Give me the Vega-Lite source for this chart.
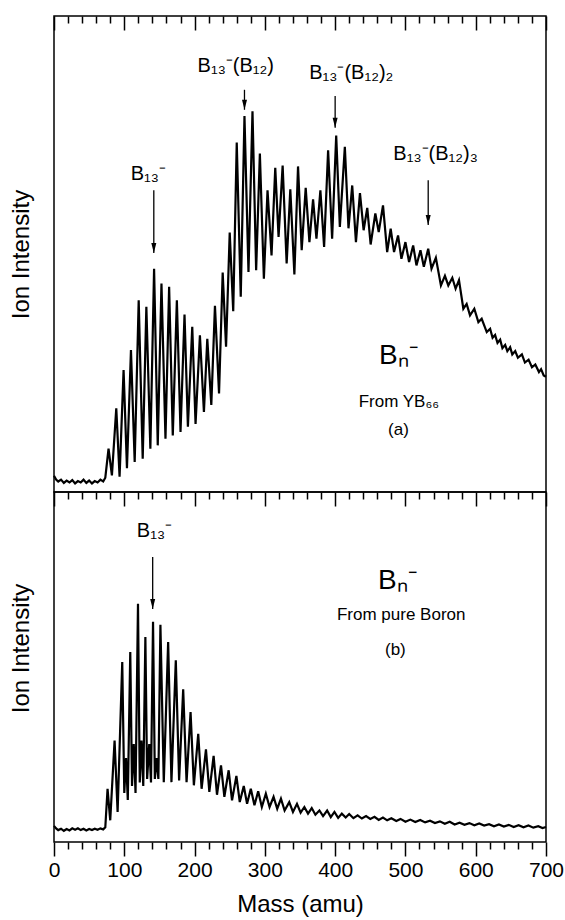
{
  "$schema": "https://vega.github.io/schema/vega-lite/v6.json",
  "background": "white",
  "padding": {"left": 8, "top": 14, "right": 10, "bottom": 0},
  "spacing": 0,
  "bounds": "flush",
  "datasets": {
    "top": [
      {"m": 0, "v": 3.4}, {"m": 3, "v": 2.6}, {"m": 6, "v": 2.2}, {"m": 10, "v": 2.6}, {"m": 14, "v": 1.9},
      {"m": 18, "v": 2.4}, {"m": 22, "v": 2.0}, {"m": 26, "v": 2.5}, {"m": 30, "v": 1.8}, {"m": 34, "v": 2.3},
      {"m": 38, "v": 2.0}, {"m": 42, "v": 2.6}, {"m": 46, "v": 1.9}, {"m": 50, "v": 2.4}, {"m": 54, "v": 1.8},
      {"m": 58, "v": 2.3}, {"m": 62, "v": 2.0}, {"m": 66, "v": 2.6}, {"m": 70, "v": 2.2}, {"m": 73, "v": 3.0},
      {"m": 77.6, "v": 9.1}, {"m": 82.4, "v": 3.5}, {"m": 88.6, "v": 17.6}, {"m": 93.3, "v": 3.2},
      {"m": 99, "v": 25.6}, {"m": 103.8, "v": 5.0}, {"m": 109.5, "v": 29.8}, {"m": 114.8, "v": 6.3},
      {"m": 120.5, "v": 40.3}, {"m": 126.2, "v": 7.0}, {"m": 131.4, "v": 38.9}, {"m": 137.1, "v": 9.1},
      {"m": 142.4, "v": 46.9}, {"m": 147.6, "v": 9.8}, {"m": 152.9, "v": 43.8}, {"m": 158.6, "v": 11.2},
      {"m": 163.8, "v": 43.1}, {"m": 169, "v": 11.9}, {"m": 174.8, "v": 40.3}, {"m": 180, "v": 12.6},
      {"m": 185.7, "v": 37.3}, {"m": 190.5, "v": 13.7}, {"m": 196.7, "v": 34.7}, {"m": 201.4, "v": 14.3},
      {"m": 207.6, "v": 32.9}, {"m": 213.3, "v": 16.8}, {"m": 218.1, "v": 32.2}, {"m": 223.8, "v": 18.3},
      {"m": 229, "v": 39.1}, {"m": 234.8, "v": 20.7}, {"m": 240, "v": 46.1}, {"m": 244.8, "v": 30.5},
      {"m": 250, "v": 54.5}, {"m": 255, "v": 38}, {"m": 260, "v": 73.4}, {"m": 265.7, "v": 41},
      {"m": 271, "v": 79}, {"m": 276.7, "v": 46.2}, {"m": 282.4, "v": 80}, {"m": 287.6, "v": 46.6},
      {"m": 292.9, "v": 71.1}, {"m": 298.6, "v": 44.8}, {"m": 303.8, "v": 63.4}, {"m": 309.5, "v": 49.7},
      {"m": 314.8, "v": 68.1}, {"m": 319.5, "v": 53.6}, {"m": 325.3, "v": 68.6}, {"m": 331, "v": 48},
      {"m": 336.2, "v": 63.6}, {"m": 342, "v": 45.7}, {"m": 347.2, "v": 68.4}, {"m": 352.4, "v": 50.8},
      {"m": 358.1, "v": 63.9}, {"m": 363.4, "v": 52.5}, {"m": 368.6, "v": 61.5}, {"m": 373.4, "v": 53.2},
      {"m": 379, "v": 63.4}, {"m": 384.3, "v": 51.5}, {"m": 390, "v": 71.8}, {"m": 395.7, "v": 53.2},
      {"m": 401.5, "v": 74.9}, {"m": 406.7, "v": 55.7}, {"m": 413.8, "v": 72.5}, {"m": 419, "v": 55.4},
      {"m": 424.3, "v": 64.4}, {"m": 429.6, "v": 52.5}, {"m": 435.3, "v": 62.8}, {"m": 440.5, "v": 55},
      {"m": 445.7, "v": 59.7}, {"m": 450.5, "v": 52}, {"m": 457.2, "v": 58.5}, {"m": 462, "v": 54.6},
      {"m": 468.1, "v": 60.2}, {"m": 474, "v": 50.4}, {"m": 479, "v": 55.3}, {"m": 483.8, "v": 50.4},
      {"m": 489.5, "v": 53.9}, {"m": 494.3, "v": 49}, {"m": 500, "v": 52.5}, {"m": 505.2, "v": 48.3},
      {"m": 511, "v": 51.8}, {"m": 515.7, "v": 47.6}, {"m": 521.4, "v": 50.8}, {"m": 526.2, "v": 47.3},
      {"m": 532.4, "v": 51.1}, {"m": 537.1, "v": 46.9}, {"m": 543.3, "v": 49.2}, {"m": 550.5, "v": 43.4},
      {"m": 556.2, "v": 45.4}, {"m": 561, "v": 43.4}, {"m": 566.7, "v": 45}, {"m": 571.4, "v": 42.7},
      {"m": 576.2, "v": 44.5}, {"m": 582.4, "v": 38.5}, {"m": 587.1, "v": 39.5}, {"m": 591.9, "v": 37.1},
      {"m": 598, "v": 38.5}, {"m": 603.8, "v": 35.7}, {"m": 608.5, "v": 36.4}, {"m": 615.7, "v": 33.6},
      {"m": 620.5, "v": 34.3}, {"m": 624, "v": 32.4}, {"m": 627.6, "v": 33.0}, {"m": 631, "v": 31.3},
      {"m": 634.8, "v": 32.0}, {"m": 638, "v": 30.2}, {"m": 641.9, "v": 30.9}, {"m": 645, "v": 29.6},
      {"m": 649, "v": 30.4}, {"m": 652, "v": 28.9}, {"m": 656.2, "v": 29.6}, {"m": 660, "v": 28.2},
      {"m": 665.7, "v": 28.9}, {"m": 670, "v": 27.2}, {"m": 675.2, "v": 27.8}, {"m": 680, "v": 26.2},
      {"m": 684.8, "v": 26.8}, {"m": 690, "v": 25.2}, {"m": 693, "v": 25.8}, {"m": 696.7, "v": 24.5},
      {"m": 700, "v": 24.2}
    ],
    "bottom": [
      {"m": 0, "v": 4.6}, {"m": 3, "v": 3.9}, {"m": 6, "v": 3.4}, {"m": 10, "v": 3.8}, {"m": 14, "v": 3.2},
      {"m": 18, "v": 3.7}, {"m": 22, "v": 3.3}, {"m": 26, "v": 3.9}, {"m": 30, "v": 3.5}, {"m": 34, "v": 3.9},
      {"m": 38, "v": 3.4}, {"m": 42, "v": 3.8}, {"m": 46, "v": 3.3}, {"m": 50, "v": 3.7}, {"m": 54, "v": 3.4},
      {"m": 58, "v": 3.8}, {"m": 62, "v": 3.5}, {"m": 66, "v": 3.9}, {"m": 70, "v": 3.6}, {"m": 73, "v": 4.2},
      {"m": 76.2, "v": 15.2}, {"m": 80, "v": 6.2}, {"m": 86.2, "v": 29}, {"m": 90.5, "v": 8.6},
      {"m": 97.1, "v": 51.4}, {"m": 100, "v": 14}, {"m": 102.5, "v": 24}, {"m": 105, "v": 12},
      {"m": 108.5, "v": 54.3}, {"m": 111, "v": 16}, {"m": 113.5, "v": 28}, {"m": 116, "v": 14},
      {"m": 119.5, "v": 68.1}, {"m": 122, "v": 17}, {"m": 124.5, "v": 29}, {"m": 127, "v": 16},
      {"m": 130, "v": 58.6}, {"m": 132.5, "v": 18}, {"m": 135.5, "v": 28}, {"m": 138, "v": 17},
      {"m": 140.9, "v": 62.9}, {"m": 143.5, "v": 18}, {"m": 146, "v": 24}, {"m": 148.5, "v": 18},
      {"m": 151.4, "v": 62.1}, {"m": 156.2, "v": 17.1}, {"m": 162.4, "v": 57.1}, {"m": 167.1, "v": 17.1},
      {"m": 173.3, "v": 51.9}, {"m": 178, "v": 17.6}, {"m": 183.8, "v": 43.6}, {"m": 188.6, "v": 17.1},
      {"m": 194.3, "v": 37.1}, {"m": 199, "v": 16.2}, {"m": 205.2, "v": 30.9}, {"m": 210, "v": 15.2},
      {"m": 216.2, "v": 26.5}, {"m": 221, "v": 14.3}, {"m": 227.1, "v": 24.6}, {"m": 231.9, "v": 13.5},
      {"m": 237.6, "v": 21.9}, {"m": 242.4, "v": 12.9}, {"m": 248.5, "v": 20.5}, {"m": 253.3, "v": 11.9},
      {"m": 259.5, "v": 18.9}, {"m": 264.3, "v": 11.4}, {"m": 270, "v": 16.0}, {"m": 274.7, "v": 10.9},
      {"m": 280, "v": 15.2}, {"m": 285.2, "v": 10.5}, {"m": 290.5, "v": 14.5}, {"m": 295.7, "v": 10},
      {"m": 301.4, "v": 13.8}, {"m": 306.7, "v": 10}, {"m": 312.4, "v": 12.9}, {"m": 317.6, "v": 9.5},
      {"m": 322.9, "v": 12.4}, {"m": 328.1, "v": 9.0}, {"m": 334.7, "v": 11.4}, {"m": 340, "v": 8.6},
      {"m": 345.7, "v": 10.9}, {"m": 350.9, "v": 8.4}, {"m": 356.2, "v": 10}, {"m": 361.4, "v": 8.1},
      {"m": 366.7, "v": 9.7}, {"m": 371.9, "v": 7.8}, {"m": 377.6, "v": 9.0}, {"m": 382.8, "v": 7.4},
      {"m": 388.6, "v": 9.0}, {"m": 393.8, "v": 7.1}, {"m": 399, "v": 8.6}, {"m": 404.3, "v": 6.9},
      {"m": 409.5, "v": 8.1}, {"m": 415, "v": 7.0}, {"m": 420, "v": 8.0}, {"m": 426, "v": 6.8},
      {"m": 432, "v": 7.6}, {"m": 438, "v": 6.7}, {"m": 444, "v": 7.4}, {"m": 450, "v": 6.6},
      {"m": 456, "v": 7.2}, {"m": 462, "v": 6.3}, {"m": 468, "v": 7.0}, {"m": 474, "v": 6.2},
      {"m": 480, "v": 6.8}, {"m": 487, "v": 6.0}, {"m": 493, "v": 6.6}, {"m": 500, "v": 5.8},
      {"m": 507, "v": 6.4}, {"m": 514, "v": 5.7}, {"m": 521, "v": 6.3}, {"m": 528, "v": 5.6},
      {"m": 535, "v": 6.1}, {"m": 542, "v": 5.4}, {"m": 549, "v": 5.9}, {"m": 556, "v": 5.2},
      {"m": 563, "v": 5.8}, {"m": 570, "v": 5.0}, {"m": 577, "v": 5.5}, {"m": 584, "v": 4.9},
      {"m": 591, "v": 5.4}, {"m": 598, "v": 4.8}, {"m": 605, "v": 5.3}, {"m": 612, "v": 4.7},
      {"m": 619, "v": 5.1}, {"m": 626, "v": 4.5}, {"m": 633, "v": 5.0}, {"m": 640, "v": 4.4},
      {"m": 647, "v": 4.9}, {"m": 654, "v": 4.3}, {"m": 661, "v": 4.8}, {"m": 668, "v": 4.2},
      {"m": 675, "v": 4.7}, {"m": 682, "v": 4.1}, {"m": 689, "v": 4.5}, {"m": 695, "v": 4.0},
      {"m": 700, "v": 4.3}
    ],
    "arrowsTop": [
      {"m": 142, "v": 63.4, "v2": 50.2},
      {"m": 271, "v": 84.5, "v2": 80.3},
      {"m": 400, "v": 83.2, "v2": 76.5},
      {"m": 532.4, "v": 65.5, "v2": 56.1}
    ],
    "arrowsBottom": [
      {"m": 140.4, "v": 81.4, "v2": 66.6}
    ]
  },
  "vconcat": [
    {
      "width": 492,
      "height": 476,
      "layer": [
        {
          "data": {"name": "top"},
          "mark": {"type": "line", "color": "black", "strokeWidth": 2.2},
          "encoding": {
            "x": {"field": "m", "type": "quantitative", "scale": {"domain": [0, 700], "nice": false},
              "axis": {"orient": "top", "values": [0,20,40,60,80,100,120,140,160,180,200,220,240,260,280,300,320,340,360,380,400,420,440,460,480,500,520,540,560,580,600,620,640,660,680,700],
                "labels": false, "title": null, "domain": false, "grid": false, "tickWidth": 1.5, "tickColor": "black",
                "tickSize": {"condition": {"test": "datum.value % 100 === 0", "value": -14}, "value": -7}}},
            "y": {"field": "v", "type": "quantitative", "scale": {"domain": [0, 100], "nice": false},
              "axis": {"title": "Ion Intensity", "ticks": false, "labels": false, "domain": false, "grid": false,
                "titleFontSize": 24, "titlePadding": 21, "titleFontWeight": "normal", "titleColor": "black", "minExtent": 0}}
          }
        },
        {
          "data": {"name": "arrowsTop"},
          "mark": {"type": "rule", "color": "black", "strokeWidth": 1.3},
          "encoding": {
            "x": {"field": "m", "type": "quantitative", "axis": null},
            "y": {"field": "v", "type": "quantitative", "axis": null},
            "y2": {"field": "v2"}
          }
        },
        {
          "data": {"name": "arrowsTop"},
          "mark": {"type": "point", "shape": "M-0.5,-2L0.5,-2L0,0Z", "filled": true, "color": "black", "size": 100, "opacity": 1},
          "encoding": {
            "x": {"field": "m", "type": "quantitative", "axis": null},
            "y": {"field": "v2", "type": "quantitative", "axis": null}
          }
        },
        {
          "data": {"values": [
            {"m": 134.3, "v": 65.5, "t": "B₁₃⁻"},
            {"m": 258.6, "v": 88.2, "t": "B₁₃⁻(B₁₂)"},
            {"m": 422.9, "v": 86.8, "t": "B₁₃⁻(B₁₂)₂"},
            {"m": 542.9, "v": 69.7, "t": "B₁₃⁻(B₁₂)₃"}
          ]},
          "mark": {"type": "text", "font": "Liberation Sans", "fontSize": 20, "align": "center", "baseline": "alphabetic", "color": "black"},
          "encoding": {
            "x": {"field": "m", "type": "quantitative", "axis": null},
            "y": {"field": "v", "type": "quantitative", "axis": null},
            "text": {"field": "t"}
          }
        },
        {
          "data": {"values": [{"m": 490, "v": 26.9, "t": "Bₙ⁻"}]},
          "mark": {"type": "text", "font": "Liberation Sans", "fontSize": 28, "align": "center", "baseline": "alphabetic", "color": "black"},
          "encoding": {
            "x": {"field": "m", "type": "quantitative", "axis": null},
            "y": {"field": "v", "type": "quantitative", "axis": null},
            "text": {"field": "t"}
          }
        },
        {
          "data": {"values": [{"m": 490.7, "v": 17.9, "t": "From YB₆₆"}, {"m": 490, "v": 12.0, "t": "(a)"}]},
          "mark": {"type": "text", "font": "Liberation Sans", "fontSize": 17, "align": "center", "baseline": "alphabetic", "color": "black"},
          "encoding": {
            "x": {"field": "m", "type": "quantitative", "axis": null},
            "y": {"field": "v", "type": "quantitative", "axis": null},
            "text": {"field": "t"}
          }
        }
      ],
      "resolve": {"axis": {"x": "independent", "y": "independent"}}
    },
    {
      "width": 492,
      "height": 350,
      "layer": [
        {
          "data": {"name": "bottom"},
          "mark": {"type": "line", "color": "black", "strokeWidth": 2.2},
          "encoding": {
            "x": {"field": "m", "type": "quantitative", "scale": {"domain": [0, 700], "nice": false},
              "axis": {"orient": "bottom", "values": [0,20,40,60,80,100,120,140,160,180,200,220,240,260,280,300,320,340,360,380,400,420,440,460,480,500,520,540,560,580,600,620,640,660,680,700],
                "labelExpr": "datum.value % 100 === 0 ? datum.label : ''", "labelFontSize": 21, "labelColor": "black", "labelPadding": 3,
                "labelFlush": false, "labelOverlap": false,
                "title": "Mass (amu)", "titleFontSize": 24, "titleFontWeight": "normal", "titleColor": "black", "titlePadding": 12,
                "domain": false, "grid": false, "tickWidth": 1.5, "tickColor": "black",
                "tickSize": {"condition": {"test": "datum.value % 100 === 0", "value": 14}, "value": 7}}},
            "y": {"field": "v", "type": "quantitative", "scale": {"domain": [0, 100], "nice": false},
              "axis": {"title": "Ion Intensity", "ticks": false, "labels": false, "domain": false, "grid": false,
                "titleFontSize": 24, "titlePadding": 21, "titleFontWeight": "normal", "titleColor": "black", "minExtent": 0, "titleY": 156}}
          }
        },
        {
          "data": {"name": "arrowsBottom"},
          "mark": {"type": "rule", "color": "black", "strokeWidth": 1.3},
          "encoding": {
            "x": {"field": "m", "type": "quantitative",
              "axis": {"orient": "top", "values": [0,20,40,60,80,100,120,140,160,180,200,220,240,260,280,300,320,340,360,380,400,420,440,460,480,500,520,540,560,580,600,620,640,660,680,700],
                "labels": false, "title": null, "domain": false, "grid": false, "tickWidth": 1.5, "tickColor": "black",
                "tickSize": {"condition": {"test": "datum.value % 100 === 0", "value": -14}, "value": -7}}},
            "y": {"field": "v", "type": "quantitative", "axis": null},
            "y2": {"field": "v2"}
          }
        },
        {
          "data": {"name": "arrowsBottom"},
          "mark": {"type": "point", "shape": "M-0.5,-2L0.5,-2L0,0Z", "filled": true, "color": "black", "size": 100, "opacity": 1},
          "encoding": {
            "x": {"field": "m", "type": "quantitative", "axis": null},
            "y": {"field": "v2", "type": "quantitative", "axis": null}
          }
        },
        {
          "data": {"values": [{"m": 142.9, "v": 87.1, "t": "B₁₃⁻"}]},
          "mark": {"type": "text", "font": "Liberation Sans", "fontSize": 20, "align": "center", "baseline": "alphabetic", "color": "black"},
          "encoding": {
            "x": {"field": "m", "type": "quantitative", "axis": null},
            "y": {"field": "v", "type": "quantitative", "axis": null},
            "text": {"field": "t"}
          }
        },
        {
          "data": {"values": [{"m": 488.6, "v": 72.3, "t": "Bₙ⁻"}]},
          "mark": {"type": "text", "font": "Liberation Sans", "fontSize": 28, "align": "center", "baseline": "alphabetic", "color": "black"},
          "encoding": {
            "x": {"field": "m", "type": "quantitative", "axis": null},
            "y": {"field": "v", "type": "quantitative", "axis": null},
            "text": {"field": "t"}
          }
        },
        {
          "data": {"values": [{"m": 494, "v": 63.4, "t": "From pure Boron"}, {"m": 485.7, "v": 53.4, "t": "(b)"}]},
          "mark": {"type": "text", "font": "Liberation Sans", "fontSize": 17, "align": "center", "baseline": "alphabetic", "color": "black"},
          "encoding": {
            "x": {"field": "m", "type": "quantitative", "axis": null},
            "y": {"field": "v", "type": "quantitative", "axis": null},
            "text": {"field": "t"}
          }
        }
      ],
      "resolve": {"axis": {"x": "independent", "y": "independent"}}
    }
  ],
  "config": {
    "font": "Liberation Sans",
    "view": {"stroke": "black", "strokeWidth": 1.5},
    "axis": {"labelFont": "Liberation Sans", "titleFont": "Liberation Sans", "labelColor": "black", "titleColor": "black", "tickColor": "black"}
  }
}
